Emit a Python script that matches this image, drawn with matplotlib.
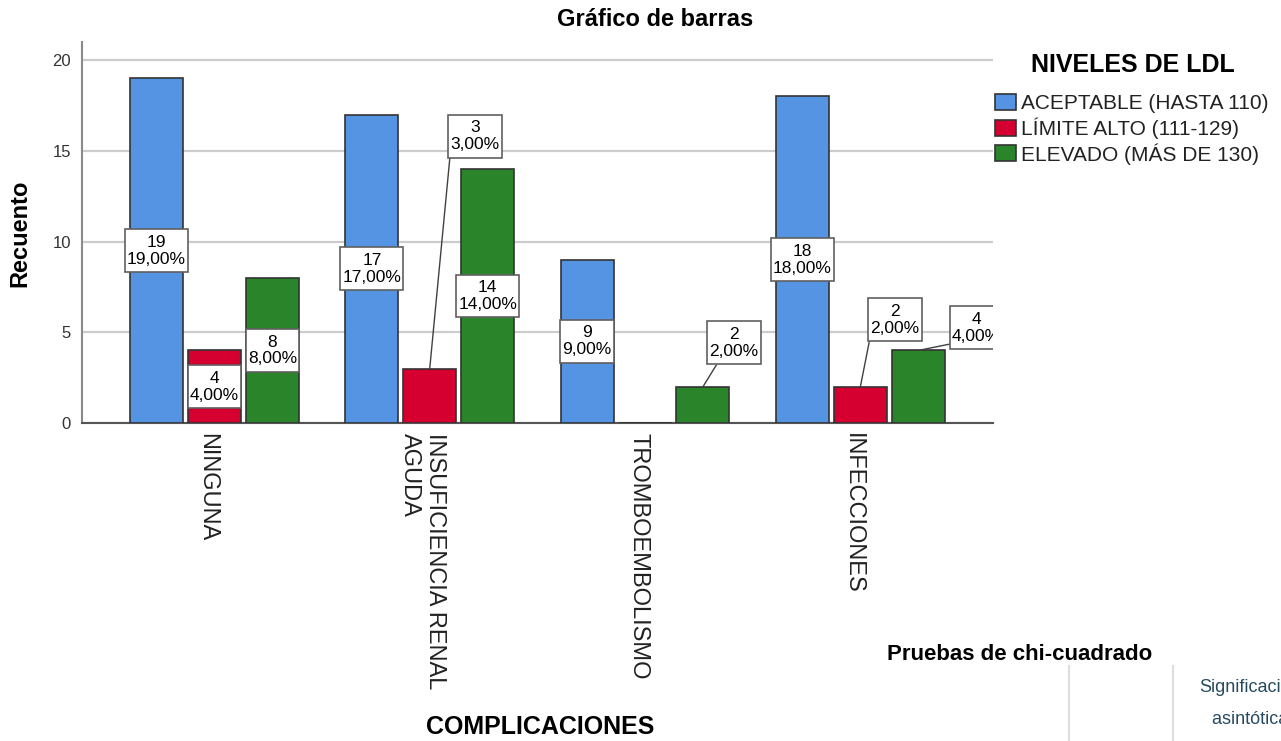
import numpy as np
import matplotlib
matplotlib.use('Agg')
from matplotlib import pyplot as plt
from matplotlib.lines import Line2D
from matplotlib.path import Path
from matplotlib.transforms import ScaledTranslation

plt.rcParams['font.family'] = ['Liberation Sans', 'DejaVu Sans']

complicaciones = ['NINGUNA', 'INSUFICIENCIA RENAL\nAGUDA', 'TROMBOEMBOLISMO', 'INFECCIONES']
niveles = ['ACEPTABLE (HASTA 110)', 'LÍMITE ALTO (111-129)', 'ELEVADO (MÁS DE 130)']
aceptable = [19, 17, 9, 18]
limite_alto = [4, 3, 0, 2]
elevado = [8, 14, 2, 4]

series = [aceptable, limite_alto, elevado]
colores = ['#5594e3', '#d5002f', '#2a852a']
total = sum(sum(s) for s in series)

# labels moved off the bar, with a leader line:
# (serie, categoria) -> (x, y of the box, point of the box where the line starts)
desplazadas = {(1, 1): (1.21, 15.8, (0.0, 0.0)),
               (2, 2): (2.413, 4.42, (0.22, 0.0)),
               (1, 3): (3.161, 5.69, (0.0, 0.0)),
               (2, 3): (3.54, 5.25, (0.0, 0.0))}


def caja_spss(x0, y0, width, height, mutation_size):
    # square box, narrow on the sides and taller above/below the text
    px = 0.12 * mutation_size
    py = 0.32 * mutation_size
    return Path([(x0 - px, y0 - py), (x0 + width + px, y0 - py),
                 (x0 + width + px, y0 + height + py), (x0 - px, y0 + height + py),
                 (x0 - px, y0 - py)], closed=True)


fig = plt.figure(figsize=(12.81, 7.41), dpi=100)
ax = fig.add_axes([82 / 1281, 1 - 423 / 741, (993 - 82) / 1281, (423 - 42) / 741])

x = np.arange(len(complicaciones))
paso = 0.269
ancho = 0.246
caja = dict(boxstyle=caja_spss, fc='white', ec='#606060', lw=1.2)

for i, (vals, col) in enumerate(zip(series, colores)):
    xs = x + (i - 1) * paso
    ax.bar(xs, vals, ancho, color=col, edgecolor='#333333', linewidth=1.2,
           label=niveles[i], zorder=3)
    for j, v in enumerate(vals):
        if v == 0:
            continue
        txt = '%d\n%s%%' % (v, ('%.2f' % (v * 100.0 / total)).replace('.', ','))
        if (i, j) in desplazadas:
            bx, by, rel = desplazadas[(i, j)]
            ax.annotate(txt, xy=(xs[j], v), xytext=(bx, by),
                        ha='center', va='center', fontsize=12.5, linespacing=1.15,
                        bbox=caja, zorder=5, annotation_clip=False, clip_on=True,
                        arrowprops=dict(arrowstyle='-', color='#404040', lw=1,
                                        shrinkA=0, shrinkB=0, relpos=rel))
        else:
            ax.text(xs[j], v / 2, txt, ha='center', va='center', fontsize=12.5,
                    linespacing=1.15, bbox=caja, zorder=5)

ax.set_xlim(-0.615, 3.616)
ax.set_ylim(0, 21)
ax.set_yticks([0, 5, 10, 15, 20])
ax.yaxis.grid(True, color='#cccccc', lw=1.6, zorder=0)
ax.set_axisbelow(True)
ax.tick_params(axis='y', length=0, pad=8, labelsize=12, labelcolor='#333333')
ax.tick_params(axis='x', length=0, pad=7)
ax.set_xticks(x)
ax.set_xticklabels(complicaciones, rotation=270, fontsize=17, color='#222222',
                   va='top', ha='center', multialignment='left')
# nudge the vertical category names a little to the left of their tick
desvio = ScaledTranslation(-0.07, 0, fig.dpi_scale_trans)
for lab in ax.get_xticklabels():
    lab.set_transform(lab.get_transform() + desvio)
for s in ['top', 'right']:
    ax.spines[s].set_visible(False)
ax.spines['left'].set_color('#8a8a8a')
ax.spines['left'].set_linewidth(1.5)
ax.spines['bottom'].set_color('#555555')
ax.spines['bottom'].set_linewidth(1.5)

fig.text(655 / 1281, 1 - 20 / 741, 'Gráfico de barras', ha='center', va='center',
         fontsize=17, fontweight='bold')
fig.text(20 / 1281, 1 - 233 / 741, 'Recuento', rotation=90, ha='center', va='center',
         fontsize=17, fontweight='bold')
fig.text(540 / 1281, 1 - 727 / 741, 'COMPLICACIONES', ha='center', va='center',
         fontsize=18, fontweight='bold')

# legend: title drawn apart so it sits higher above the entries
fig.text(1133 / 1281, 1 - 65 / 741, 'NIVELES DE LDL', ha='center', va='center',
         fontsize=18, fontweight='bold')
leg = fig.legend(loc='upper left', bbox_to_anchor=(995 / 1281, 1 - 94 / 741),
                 frameon=False, fontsize=15,
                 handlelength=1.0, handleheight=0.8, handletextpad=0.25,
                 labelspacing=0.2, borderpad=0, borderaxespad=0)
for t in leg.get_texts():
    t.set_color('#222222')

# start of the chi-square table below the chart
fig.text(887 / 1281, 1 - 655 / 741, 'Pruebas de chi-cuadrado', ha='left', va='center',
         fontsize=16, fontweight='bold')
for px in [1069, 1173]:
    fig.add_artist(Line2D([px / 1281, px / 1281], [0, 1 - 666 / 741],
                          color='#dddddd', lw=1.5))
fig.text(1199 / 1281, 1 - 688 / 741, 'Significación', ha='left', va='center',
         fontsize=13, color='#264a60')
fig.text(1212 / 1281, 1 - 720 / 741, 'asintótica (bilateral)', ha='left', va='center',
         fontsize=13, color='#264a60')

fig.savefig('out.png', dpi=100)
